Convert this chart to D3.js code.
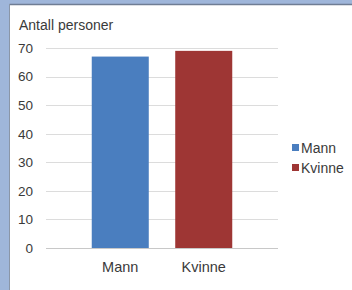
<!DOCTYPE html>
<html>
<head>
<meta charset="utf-8">
<script src="https://cdn.jsdelivr.net/npm/d3@7/dist/d3.min.js"></script>
<style>
  html, body { margin: 0; padding: 0; background: #ffffff; }
  svg { display: block; }
  text { font-family: "Liberation Sans", Arial, sans-serif; fill: #3a3a3a; }
</style>
</head>
<body>
<svg id="chart" width="352" height="290"></svg>
<script>
const categories = ["Mann", "Kvinne"];
const values = [67, 69];
const colors = ["#4A7EBF", "#9E3634"];
const yTicks = [0, 10, 20, 30, 40, 50, 60, 70];
const yTitle = "Antall personer";

const svg = d3.select("#chart");

// outer frame
svg.append("rect").attr("x", 0).attr("y", 0).attr("width", 352).attr("height", 290).attr("fill", "#9fb6da");
svg.append("rect").attr("x", 10).attr("y", 4).attr("width", 342).attr("height", 286).attr("fill", "#ffffff");
svg.append("line").attr("x1", 9.5).attr("x2", 352).attr("y1", 4.5).attr("y2", 4.5).attr("stroke", "#6f7d94").attr("stroke-width", 1.5);
svg.append("line").attr("x1", 9.5).attr("x2", 9.5).attr("y1", 4).attr("y2", 290).attr("stroke", "#8a96a8").attr("stroke-width", 1);

const y = d3.scaleLinear().domain([0, 70]).range([248, 48]);
const x = d3.scaleBand().domain(categories).range([46, 278]).paddingInner(0.317).paddingOuter(0.548);

// gridlines
svg.append("g").selectAll("line").data(yTicks).join("line")
  .attr("x1", 46).attr("x2", 278)
  .attr("y1", d => Math.round(y(d)) + 0.5).attr("y2", d => Math.round(y(d)) + 0.5)
  .attr("stroke", d => d === 0 ? "#c8c8c8" : "#dcdcdc").attr("stroke-width", 1);

// y axis labels
const yAxis = d3.axisLeft(y).tickValues(yTicks).tickSize(0).tickPadding(0);
const gy = svg.append("g").attr("transform", "translate(33,0)").call(yAxis);
gy.select(".domain").remove();
gy.selectAll("text").attr("font-size", "13.5px").attr("fill", "#3a3a3a")
  .style("font-family", "'Liberation Sans', Arial, sans-serif");

// y title
svg.append("text").attr("x", 19).attr("y", 30).attr("font-size", "14px").text(yTitle);

// bars
svg.append("g").selectAll("rect").data(values).join("rect")
  .attr("x", (d, i) => x(categories[i]))
  .attr("width", x.bandwidth())
  .attr("y", d => y(d))
  .attr("height", d => y(0) - y(d))
  .attr("fill", (d, i) => colors[i]);

// x axis labels
const xAxis = d3.axisBottom(x).tickSize(0).tickPadding(0);
const gx = svg.append("g").attr("transform", "translate(0,262)").call(xAxis);
gx.select(".domain").remove();
gx.selectAll("text").attr("font-size", "14.5px").attr("fill", "#3a3a3a")
  .style("font-family", "'Liberation Sans', Arial, sans-serif");

// legend
const leg = svg.append("g").selectAll("g").data(categories).join("g")
  .attr("transform", (d, i) => `translate(292,${148 + i * 20})`);
leg.append("rect").attr("x", 0).attr("y", -4).attr("width", 7).attr("height", 7).attr("fill", (d, i) => colors[i]);
leg.append("text").attr("x", 9).attr("y", 5).attr("font-size", "14px").text(d => d);
</script>
</body>
</html>
